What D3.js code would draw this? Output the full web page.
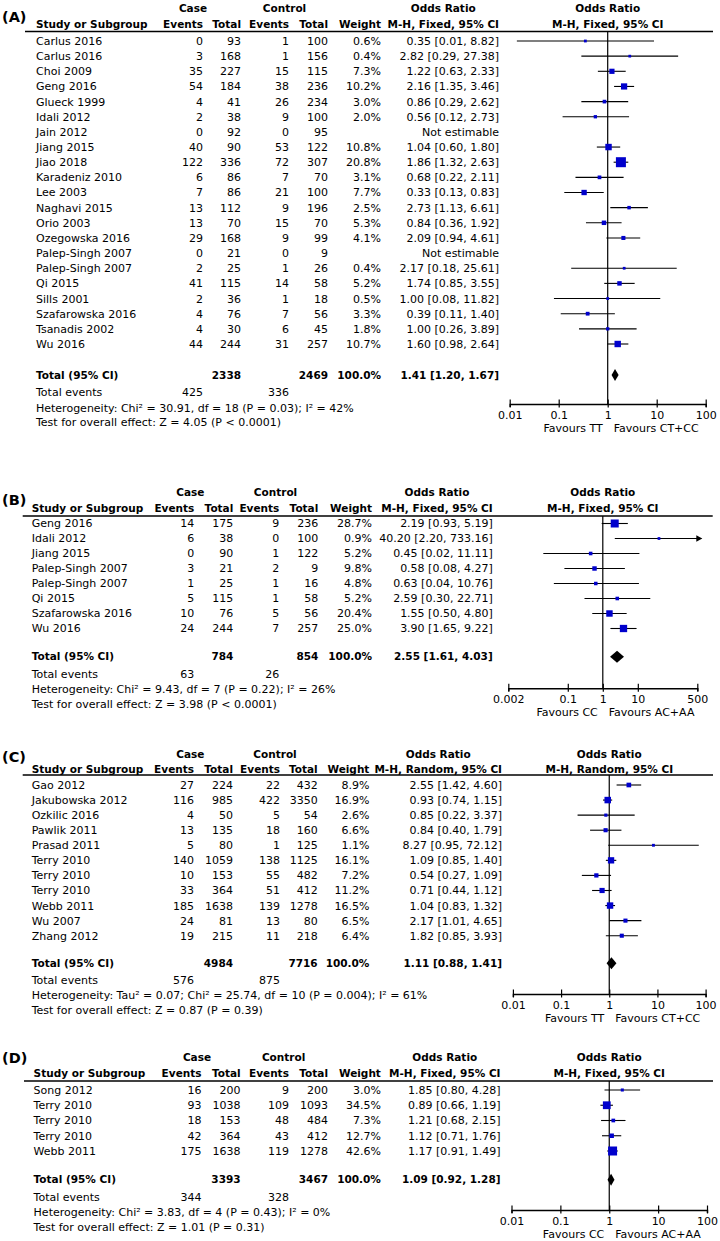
<!DOCTYPE html>
<html><head><meta charset="utf-8">
<script src="https://cdn.jsdelivr.net/npm/d3@7"></script>
<style>
body{margin:0;background:#fff}
svg{display:block}
text{font-family:"DejaVu Sans",sans-serif;fill:#000}
</style>
</head><body>
<svg id="c" width="720" height="1241"></svg>
<script>
// ---------- Panel A data ----------
const studiesA = ["Carlus 2016","Carlus 2016","Choi 2009","Geng 2016","Glueck 1999","Idali 2012","Jain 2012","Jiang 2015","Jiao 2018","Karadeniz 2010","Lee 2003","Naghavi 2015","Orio 2003","Ozegowska 2016","Palep-Singh 2007","Palep-Singh 2007","Qi 2015","Sills 2001","Szafarowska 2016","Tsanadis 2002","Wu 2016"];
const caseEventsA = [0,3,35,54,4,2,0,40,122,6,7,13,13,29,0,2,41,2,4,4,44];
const caseTotalA  = [93,168,227,184,41,38,92,90,336,86,86,112,70,168,21,25,115,36,76,30,244];
const ctrlEventsA = [1,1,15,38,26,9,0,53,72,7,21,9,15,9,0,1,14,1,7,6,31];
const ctrlTotalA  = [100,156,115,236,234,100,95,122,307,70,100,196,70,99,9,26,58,18,56,45,257];
const weightA = [0.6,0.4,7.3,10.2,3.0,2.0,null,10.8,20.8,3.1,7.7,2.5,5.3,4.1,null,0.4,5.2,0.5,3.3,1.8,10.7];
const orA = [0.35,2.82,1.22,2.16,0.86,0.56,null,1.04,1.86,0.68,0.33,2.73,0.84,2.09,null,2.17,1.74,1.00,0.39,1.00,1.60];
const loA = [0.014,0.29,0.63,1.35,0.29,0.12,null,0.60,1.32,0.22,0.13,1.13,0.36,0.94,null,0.18,0.85,0.08,0.11,0.26,0.98];
const hiA = [8.82,27.38,2.33,3.46,2.62,2.73,null,1.80,2.63,2.11,0.83,6.61,1.92,4.61,null,25.61,3.55,11.82,1.40,3.89,2.64];
const totalA = {caseTotal:2338, ctrlTotal:2469, caseEvents:425, ctrlEvents:336, or:1.41, lo:1.20, hi:1.67};
const hetA = "Heterogeneity: Chi² = 30.91, df = 18 (P = 0.03); I² = 42%";
const testA = "Test for overall effect: Z = 4.05 (P < 0.0001)";
const ticksA = [0.01,0.1,1,10,100];
const tickLabelsA = ["0.01","0.1","1","10","100"];
const favoursA = ["Favours TT","Favours CT+CC"];

// ---------- Panel B data ----------
const studiesB = ["Geng 2016","Idali 2012","Jiang 2015","Palep-Singh 2007","Palep-Singh 2007","Qi 2015","Szafarowska 2016","Wu 2016"];
const caseEventsB = [14,6,0,3,1,5,10,24];
const caseTotalB  = [175,38,90,21,25,115,76,244];
const ctrlEventsB = [9,0,1,2,1,1,5,7];
const ctrlTotalB  = [236,100,122,9,16,58,56,257];
const weightB = [28.7,0.9,5.2,9.8,4.8,5.2,20.4,25.0];
const orB = [2.19,40.20,0.45,0.58,0.63,2.59,1.55,3.90];
const loB = [0.93,2.20,0.02,0.08,0.04,0.30,0.50,1.65];
const hiB = [5.19,733.16,11.11,4.27,10.76,22.71,4.80,9.22];
const totalB = {caseTotal:784, ctrlTotal:854, caseEvents:63, ctrlEvents:26, or:2.55, lo:1.61, hi:4.03};
const hetB = "Heterogeneity: Chi² = 9.43, df = 7 (P = 0.22); I² = 26%";
const testB = "Test for overall effect: Z = 3.98 (P < 0.0001)";
const ticksB = [0.002,0.1,1,10,500];
const tickLabelsB = ["0.002","0.1","1","10","500"];
const favoursB = ["Favours CC","Favours AC+AA"];

// ---------- Panel C data ----------
const studiesC = ["Gao 2012","Jakubowska 2012","Ozkilic 2016","Pawlik 2011","Prasad 2011","Terry 2010","Terry 2010","Terry 2010","Webb 2011","Wu 2007","Zhang 2012"];
const caseEventsC = [27,116,4,13,5,140,10,33,185,24,19];
const caseTotalC  = [224,985,50,135,80,1059,153,364,1638,81,215];
const ctrlEventsC = [22,422,5,18,1,138,55,51,139,13,11];
const ctrlTotalC  = [432,3350,54,160,125,1125,482,412,1278,80,218];
const weightC = [8.9,16.9,2.6,6.6,1.1,16.1,7.2,11.2,16.5,6.5,6.4];
const orC = [2.55,0.93,0.85,0.84,8.27,1.09,0.54,0.71,1.04,2.17,1.82];
const loC = [1.42,0.74,0.22,0.40,0.95,0.85,0.27,0.44,0.83,1.01,0.85];
const hiC = [4.60,1.15,3.37,1.79,72.12,1.40,1.09,1.12,1.32,4.65,3.93];
const totalC = {caseTotal:4984, ctrlTotal:7716, caseEvents:576, ctrlEvents:875, or:1.11, lo:0.88, hi:1.41};
const hetC = "Heterogeneity: Tau² = 0.07; Chi² = 25.74, df = 10 (P = 0.004); I² = 61%";
const testC = "Test for overall effect: Z = 0.87 (P = 0.39)";
const ticksC = [0.01,0.1,1,10,100];
const tickLabelsC = ["0.01","0.1","1","10","100"];
const favoursC = ["Favours TT","Favours CT+CC"];

// ---------- Panel D data ----------
const studiesD = ["Song 2012","Terry 2010","Terry 2010","Terry 2010","Webb 2011"];
const caseEventsD = [16,93,18,42,175];
const caseTotalD  = [200,1038,153,364,1638];
const ctrlEventsD = [9,109,48,43,119];
const ctrlTotalD  = [200,1093,484,412,1278];
const weightD = [3.0,34.5,7.3,12.7,42.6];
const orD = [1.85,0.89,1.21,1.12,1.17];
const loD = [0.80,0.66,0.68,0.71,0.91];
const hiD = [4.28,1.19,2.15,1.76,1.49];
const totalD = {caseTotal:3393, ctrlTotal:3467, caseEvents:344, ctrlEvents:328, or:1.09, lo:0.92, hi:1.28};
const hetD = "Heterogeneity: Chi² = 3.83, df = 4 (P = 0.43); I² = 0%";
const testD = "Test for overall effect: Z = 1.01 (P = 0.31)";
const ticksD = [0.01,0.1,1,10,100];
const tickLabelsD = ["0.01","0.1","1","10","100"];
const favoursD = ["Favours CC","Favours AC+AA"];

const methodFixed = "M-H, Fixed, 95% CI";
const methodRandom = "M-H, Random, 95% CI";

const svg = d3.select("#c");
const BLUE = "#0000cc";
const FS = 11, FSB = 10.5;

function fmt2(v){ return v.toFixed(2); }

function drawPanel(d, L){
  const g = svg.append("g");
  const txt = (x, y, s, anchor, bold, size) => g.append("text")
      .attr("x", x).attr("y", y).attr("dy", "0.36em")
      .attr("text-anchor", anchor || "start")
      .attr("font-size", size || (bold ? FSB : FS))
      .attr("font-weight", bold ? "bold" : "normal")
      .text(s);

  // panel label
  txt(2, L.labelY, d.label, "start", true, 14.5);

  // headers
  txt(L.xCase, L.yCase, "Case", "middle", true);
  txt(L.xCtrl, L.yCase, "Control", "middle", true);
  txt(L.xStudy, L.yHead, "Study or Subgroup", "start", true);
  txt(L.xCE, L.yHead, "Events", "end", true);
  txt(L.xCT, L.yHead, "Total", "end", true);
  txt(L.xKE, L.yHead, "Events", "end", true);
  txt(L.xKT, L.yHead, "Total", "end", true);
  txt(L.xW, L.yHead, "Weight", "end", true);
  const mh = txt(L.xOR, L.yHead, d.method, "end", true);
  const mhW = mh.node().getComputedTextLength();
  txt(L.xOR - mhW/2, L.yCase, "Odds Ratio", "middle", true);

  const x = d3.scaleLog().domain(d3.extent(d.ticks)).range(L.axisRange);
  const x1 = x(1);
  txt(x1, L.yCase, "Odds Ratio", "middle", true);
  txt(x1, L.yHead, d.method, "middle", true);

  // header rule
  g.append("line").attr("x1", L.lineX0).attr("x2", L.lineX1)
    .attr("y1", L.yLine).attr("y2", L.yLine)
    .attr("stroke", "#000").attr("stroke-width", 1.4);

  // vertical line at OR = 1
  g.append("line").attr("x1", x1).attr("x2", x1)
    .attr("y1", L.yLine).attr("y2", L.yAxis)
    .attr("stroke", "#000").attr("stroke-width", 1.2);

  const maxW = d3.max(d.weight);
  const [dmin, dmax] = d3.extent(d.ticks);

  d.studies.forEach((s, i) => {
    const y = L.yFirst + i * L.step;
    txt(L.xStudy, y, s);
    txt(L.xCE, y, d.caseEvents[i], "end");
    txt(L.xCT, y, d.caseTotal[i], "end");
    txt(L.xKE, y, d.ctrlEvents[i], "end");
    txt(L.xKT, y, d.ctrlTotal[i], "end");
    if (d.or[i] == null){
      txt(L.xOR, y, "Not estimable", "end");
      return;
    }
    txt(L.xW, y, d.weight[i].toFixed(1) + "%", "end");
    txt(L.xOR, y, fmt2(d.or[i]) + " [" + fmt2(d.lo[i]) + ", " + fmt2(d.hi[i]) + "]", "end");

    const lo = Math.max(d.lo[i], dmin), hi = Math.min(d.hi[i], dmax);
    const xe = d.hi[i] > dmax ? x(dmax) + 4 : x(hi);
    g.append("line").attr("x1", x(lo)).attr("x2", xe)
      .attr("y1", y).attr("y2", y).attr("stroke", "#000").attr("stroke-width", 1.1);
    if (d.hi[i] > dmax){
      g.append("path")
        .attr("d", `M${xe+1},${y} L${xe-5},${y-3.2} L${xe-5},${y+3.2} Z`)
        .attr("fill", "#000");
    }
    const side = 2.6 + (L.maxBox - 2.6) * d.weight[i] / maxW;
    g.append("rect").attr("x", x(d.or[i]) - side/2).attr("y", y - side/2)
      .attr("width", side).attr("height", side).attr("fill", BLUE);
  });

  // total row
  const yt = L.yTotal;
  txt(L.xStudy, yt, "Total (95% CI)", "start", true);
  txt(L.xCT, yt, d.total.caseTotal, "end", true);
  txt(L.xKT, yt, d.total.ctrlTotal, "end", true);
  txt(L.xW, yt, "100.0%", "end", true);
  txt(L.xOR, yt, fmt2(d.total.or) + " [" + fmt2(d.total.lo) + ", " + fmt2(d.total.hi) + "]", "end", true);
  const xo = x(d.total.or), xl = x(d.total.lo), xh = x(d.total.hi), hh = 6;
  g.append("path")
    .attr("d", `M${xl},${yt} L${xo},${yt-hh} L${xh},${yt} L${xo},${yt+hh} Z`)
    .attr("fill", "#000");

  txt(L.xStudy, L.yEvents, "Total events");
  txt(L.xCE, L.yEvents, d.total.caseEvents, "end");
  txt(L.xKE, L.yEvents, d.total.ctrlEvents, "end");
  txt(L.xStudy, L.yHet, d.het);
  txt(L.xStudy, L.yTest, d.test);

  // axis
  const ax = d3.axisBottom(x).tickValues(d.ticks)
    .tickFormat((v, i) => d.tickLabels[i]).tickSizeOuter(0).tickSize(3);
  const ag = g.append("g").attr("transform", `translate(0,${L.yAxis})`).call(ax);
  ag.select(".domain").attr("stroke", "#000").attr("stroke-width", 1.4);
  ag.selectAll(".tick line").attr("y1", -4.5).attr("y2", 3.5).attr("stroke", "#000").attr("stroke-width", 1.2);
  ag.selectAll(".tick text").attr("y", 11).attr("dy", "0.36em")
    .attr("font-size", FS).attr("font-family", "DejaVu Sans, sans-serif").attr("fill", "#000");
  txt(x1 - 5, L.yAxis + 24, d.favours[0], "end");
  txt(x1 + 6, L.yAxis + 24, d.favours[1], "start");
}

const panels = [
  [{label:"(A)", studies:studiesA, caseEvents:caseEventsA, caseTotal:caseTotalA, ctrlEvents:ctrlEventsA, ctrlTotal:ctrlTotalA,
    weight:weightA, or:orA, lo:loA, hi:hiA, total:totalA, het:hetA, test:testA, ticks:ticksA, tickLabels:tickLabelsA, favours:favoursA, method:methodFixed},
   {labelY:16.5, yCase:8, yHead:24, yLine:31.5, yFirst:41, step:15.15, yTotal:375, yEvents:392, yHet:408, yTest:422, yAxis:404,
    xStudy:36, xCE:203, xCT:241, xKE:289, xKT:328, xW:381, xOR:499, xCase:193, xCtrl:284.5, lineX0:25, lineX1:713,
    axisRange:[509.7,705.7], maxBox:10}],
  [{label:"(B)", studies:studiesB, caseEvents:caseEventsB, caseTotal:caseTotalB, ctrlEvents:ctrlEventsB, ctrlTotal:ctrlTotalB,
    weight:weightB, or:orB, lo:loB, hi:hiB, total:totalB, het:hetB, test:testB, ticks:ticksB, tickLabels:tickLabelsB, favours:favoursB, method:methodFixed},
   {labelY:500, yCase:492, yHead:508, yLine:516, yFirst:523.5, step:15.0, yTotal:656.7, yEvents:674, yHet:689.3, yTest:704.3, yAxis:688.3,
    xStudy:31.7, xCE:194.3, xCT:233.3, xKE:279.3, xKT:318.3, xW:372, xOR:492.7, xCase:190.3, xCtrl:275.5, lineX0:22.7, lineX1:712.7,
    axisRange:[508.3,697.3], maxBox:8}],
  [{label:"(C)", studies:studiesC, caseEvents:caseEventsC, caseTotal:caseTotalC, ctrlEvents:ctrlEventsC, ctrlTotal:ctrlTotalC,
    weight:weightC, or:orC, lo:loC, hi:hiC, total:totalC, het:hetC, test:testC, ticks:ticksC, tickLabels:tickLabelsC, favours:favoursC, method:methodRandom},
   {labelY:756.5, yCase:754.3, yHead:769.3, yLine:775, yFirst:785, step:15.07, yTotal:963.3, yEvents:980.3, yHet:995.3, yTest:1010, yAxis:994,
    xStudy:31.7, xCE:194, xCT:233, xKE:280, xKT:317.7, xW:369.4, xOR:502, xCase:190.3, xCtrl:275, lineX0:22.7, lineX1:713,
    axisRange:[512.9,705.6], maxBox:6.5}],
  [{label:"(D)", studies:studiesD, caseEvents:caseEventsD, caseTotal:caseTotalD, ctrlEvents:ctrlEventsD, ctrlTotal:ctrlTotalD,
    weight:weightD, or:orD, lo:loD, hi:hiD, total:totalD, het:hetD, test:testD, ticks:ticksD, tickLabels:tickLabelsD, favours:favoursD, method:methodFixed},
   {labelY:1057.3, yCase:1057.3, yHead:1073, yLine:1081, yFirst:1090, step:15.25, yTotal:1179.7, yEvents:1197, yHet:1212.3, yTest:1227.3, yAxis:1210,
    xStudy:33.6, xCE:201.5, xCT:240.6, xKE:288.9, xKT:328, xW:380.9, xOR:500.5, xCase:197, xCtrl:283.6, lineX0:24, lineX1:713,
    axisRange:[511.5,707], maxBox:9}]
];
panels.forEach(([d, L]) => drawPanel(d, L));
</script>
</body></html>
